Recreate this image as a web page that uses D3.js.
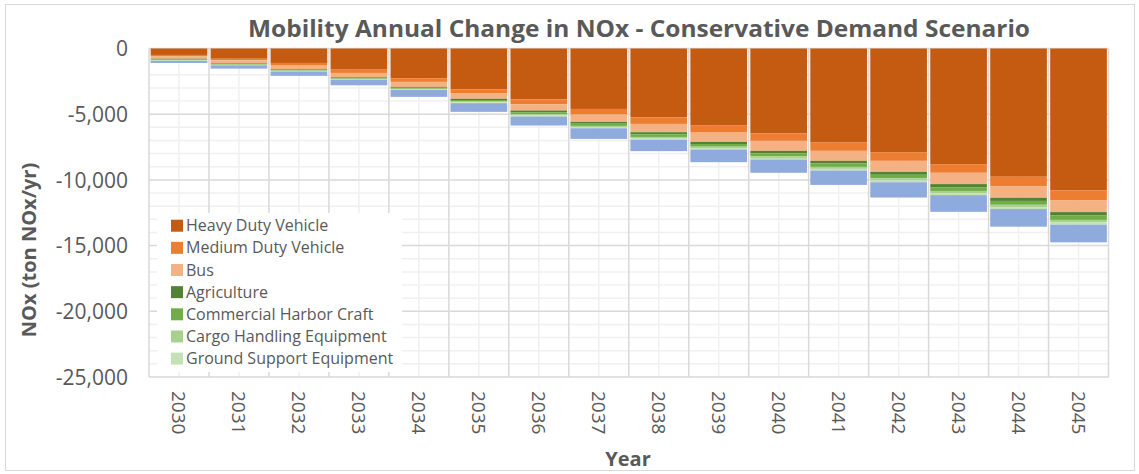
<!DOCTYPE html>
<html>
<head>
<meta charset="utf-8">
<script src="https://cdn.jsdelivr.net/npm/d3@7"></script>
<style>
  html, body { margin: 0; padding: 0; background: #ffffff; }
  svg { display: block; }
  text { font-family: "Open Sans", "Liberation Sans", sans-serif; fill: #595959; }
</style>
</head>
<body>
<svg id="chart" width="1139" height="474"></svg>
<script>
// Annual change in NOx (tons/yr) by mobility sector, conservative demand case
const years = ["2030","2031","2032","2033","2034","2035","2036","2037",
               "2038","2039","2040","2041","2042","2043","2044","2045"];

const heavyDuty   = [-490,-780,-1100,-1610,-2260,-3100,-3860,-4600,-5230,-5870,-6470,-7160,-7920,-8800,-9760,-10810];
const mediumDuty  = [-120,-120,-200,-250,-280,-300,-380,-430,-510,-530,-560,-630,-630,-660,-710,-760];
const bus         = [-170,-230,-270,-330,-380,-430,-480,-560,-630,-710,-760,-760,-840,-860,-890,-880];
const agriculture = [-45,-45,-50,-50,-65,-90,-130,-135,-160,-160,-185,-205,-220,-235,-240,-265];
const harborCraft = [-60,-50,-60,-60,-80,-115,-155,-165,-200,-200,-225,-255,-270,-285,-295,-330];
const cargoHandling = [-35,-30,-40,-40,-45,-65,-95,-95,-115,-115,-135,-150,-160,-170,-175,-195];
const groundSupport = [-30,-25,-30,-30,-40,-60,-80,-85,-105,-105,-115,-130,-140,-150,-150,-170];
const otherMobility = [-150,-250,-330,-430,-530,-660,-680,-810,-860,-960,-1010,-1090,-1160,-1270,-1340,-1340];

const seriesNames = ["Heavy Duty Vehicle","Medium Duty Vehicle","Bus","Agriculture",
                     "Commercial Harbor Craft","Cargo Handling Equipment","Ground Support Equipment","Other"];
const seriesValues = [heavyDuty, mediumDuty, bus, agriculture, harborCraft, cargoHandling, groundSupport, otherMobility];
const seriesColors = ["#C55A11","#ED7D31","#F4B183","#548235","#70AD47","#A9D18E","#C5E0B4","#8FAADC"];
const legendNames = seriesNames.slice(0, 7);

const yTicks = [0, -5000, -10000, -15000, -20000, -25000];

// rows for the stack layout
const rows = years.map((y, i) => {
  const r = { year: y };
  seriesNames.forEach((n, k) => { r[n] = seriesValues[k][i]; });
  return r;
});

const svg = d3.select("#chart");
const W = 1139, H = 474;
const plot = { left: 149, right: 1108.5, top: 48.5, bottom: 377 };

// chart border
svg.append("rect")
  .attr("x", 5.5).attr("y", 4.5).attr("width", W - 10).attr("height", H - 8)
  .attr("fill", "#ffffff").attr("stroke", "#d9d9d9").attr("stroke-width", 1);

const x = d3.scaleBand().domain(years).range([plot.left, plot.right]).paddingInner(0.055).paddingOuter(0.0275);
const xCat = d3.scaleBand().domain(years).range([plot.left, plot.right]);
const y = d3.scaleLinear().domain([-25000, 0]).range([plot.bottom, plot.top]);

const grid = svg.append("g");
// minor horizontal gridlines every 1,000
grid.selectAll("line.hmin").data(d3.range(-25000, 1, 1000).filter(v => v % 5000 !== 0))
  .join("line").attr("class", "hmin")
  .attr("x1", plot.left).attr("x2", plot.right)
  .attr("y1", d => y(d)).attr("y2", d => y(d))
  .attr("stroke", "#f0f0f0").attr("stroke-width", 1.5);
// minor vertical gridlines at category centres
grid.selectAll("line.vmin").data(years)
  .join("line").attr("class", "vmin")
  .attr("x1", d => xCat(d) + xCat.bandwidth() / 2).attr("x2", d => xCat(d) + xCat.bandwidth() / 2)
  .attr("y1", plot.top).attr("y2", plot.bottom)
  .attr("stroke", "#f0f0f0").attr("stroke-width", 1.5);
// major horizontal gridlines
grid.selectAll("line.hmaj").data(yTicks)
  .join("line").attr("class", "hmaj")
  .attr("x1", plot.left).attr("x2", plot.right)
  .attr("y1", d => y(d)).attr("y2", d => y(d))
  .attr("stroke", "#d9d9d9").attr("stroke-width", 1.5);
// major vertical gridlines at category boundaries
grid.selectAll("line.vmaj").data(years.concat(["end"]))
  .join("line").attr("class", "vmaj")
  .attr("x1", (d, i) => plot.left + i * xCat.step()).attr("x2", (d, i) => plot.left + i * xCat.step())
  .attr("y1", plot.top).attr("y2", plot.bottom)
  .attr("stroke", "#d9d9d9").attr("stroke-width", 1.5);

// stacked bars (negative values stacked downward from zero)
const stack = d3.stack().keys(seriesNames).offset(d3.stackOffsetDiverging);
const layers = stack(rows);

svg.append("g").selectAll("g").data(layers).join("g")
  .attr("fill", (d, i) => seriesColors[i])
  .selectAll("rect").data(d => d).join("rect")
  .attr("x", d => x(d.data.year))
  .attr("width", x.bandwidth())
  .attr("y", d => y(Math.max(d[0], d[1])))
  .attr("height", d => Math.abs(y(d[0]) - y(d[1])));

// y axis labels, plain hyphen for negatives
const locale = d3.formatLocale({ decimal: ".", thousands: ",", grouping: [3], currency: ["", ""], minus: "-" });
const yAxis = d3.axisLeft(y).tickValues(yTicks).tickFormat(locale.format(",")).tickSize(0).tickPadding(0);
const yg = svg.append("g").attr("transform", "translate(128,0)").call(yAxis);
yg.select(".domain").remove();
yg.selectAll("text").attr("font-size", 21).attr("fill", "#595959")
  .style("font-family", "'Open Sans', sans-serif").attr("dy", "0.35em").attr("x", 0);

// x axis labels, rotated
const xAxis = d3.axisBottom(xCat).tickSize(0).tickPadding(0);
const xg = svg.append("g").attr("transform", `translate(0,${plot.bottom})`).call(xAxis);
xg.select(".domain").remove();
xg.selectAll("text")
  .attr("font-size", 19).attr("fill", "#595959")
  .style("font-family", "'Open Sans', sans-serif")
  .attr("y", 0).attr("dy", 0)
  .attr("text-anchor", "start")
  .attr("dominant-baseline", "central")
  .attr("transform", "translate(0,14) rotate(90)");

// title
svg.append("text")
  .attr("x", 639).attr("y", 37)
  .attr("text-anchor", "middle")
  .attr("font-size", 24).attr("font-weight", "bold")
  .attr("textLength", 782).attr("lengthAdjust", "spacingAndGlyphs")
  .text("Mobility Annual Change in NOx - Conservative Demand Scenario");

// axis titles
svg.append("text")
  .attr("transform", "translate(36,250) rotate(-90)")
  .attr("text-anchor", "middle")
  .attr("font-size", 20).attr("font-weight", "bold")
  .text("NOx (ton NOx/yr)");

svg.append("text")
  .attr("x", 628).attr("y", 466)
  .attr("text-anchor", "middle")
  .attr("font-size", 20).attr("font-weight", "bold")
  .text("Year");

// legend
const lg = svg.append("g");
lg.append("rect").attr("x", 157).attr("y", 213).attr("width", 245).attr("height", 159).attr("fill", "#ffffff");
const items = lg.selectAll("g.item").data(legendNames).join("g").attr("class", "item")
  .attr("transform", (d, i) => `translate(171,${225.7 + i * 22.15})`);
items.append("rect").attr("x", 0).attr("y", -6).attr("width", 12).attr("height", 12)
  .attr("fill", (d, i) => seriesColors[i]);
items.append("text").attr("x", 15).attr("y", 0).attr("dy", "0.35em")
  .attr("font-size", 16).text(d => d);
</script>
</body>
</html>
